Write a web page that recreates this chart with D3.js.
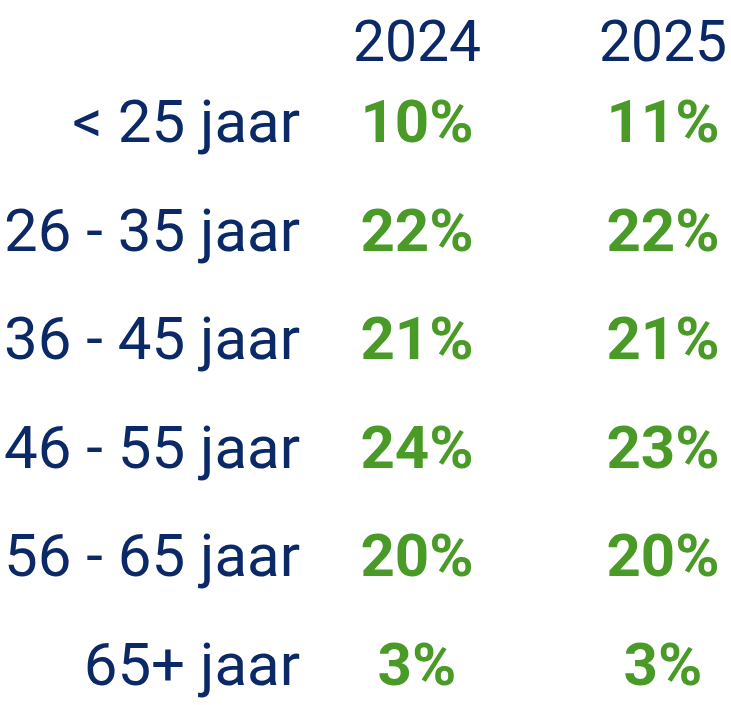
<!DOCTYPE html>
<html>
<head>
<meta charset="utf-8">
<script src="https://cdn.jsdelivr.net/npm/d3@7"></script>
<style>
  html, body { margin: 0; padding: 0; background: #fff; }
  svg { display: block; font-family: Roboto, "Noto Sans", sans-serif; }
</style>
</head>
<body>
<div id="chart"></div>
<script>
// table data
var years = ["2024", "2025"];
var ageGroups = ["< 25 jaar", "26 - 35 jaar", "36 - 45 jaar", "46 - 55 jaar", "56 - 65 jaar", "65+ jaar"];
var values2024 = [10, 22, 21, 24, 20, 3];
var values2025 = [11, 22, 21, 23, 20, 3];

var width = 731, height = 705;
var navy = "#0a2966", green = "#4a9a28";

var svg = d3.select("#chart")
    .append("svg")
    .attr("width", width)
    .attr("height", height);

var x = d3.scalePoint().domain(years).range([417, 663]);
var y = d3.scalePoint().domain(ageGroups).range([142, 685]);

var labelRight = 300;

// column headers
svg.selectAll("text.year")
    .data(years)
    .enter()
    .append("text")
    .attr("class", "year")
    .attr("x", function(d) { return x(d); })
    .attr("y", 61)
    .attr("text-anchor", "middle")
    .attr("font-size", 57)
    .attr("fill", navy)
    .text(function(d) { return d; });

// row labels
svg.selectAll("text.age")
    .data(ageGroups)
    .enter()
    .append("text")
    .attr("class", "age")
    .attr("x", labelRight)
    .attr("y", function(d) { return y(d); })
    .attr("text-anchor", "end")
    .attr("font-size", 60)
    .attr("fill", navy)
    .text(function(d) { return d; });

// percentage cells
var cells = [];
ageGroups.forEach(function(g, i) {
    cells.push({year: "2024", group: g, value: values2024[i]});
    cells.push({year: "2025", group: g, value: values2025[i]});
});

svg.selectAll("text.val")
    .data(cells)
    .enter()
    .append("text")
    .attr("class", "val")
    .attr("x", function(d) { return x(d.year); })
    .attr("y", function(d) { return y(d.group); })
    .attr("text-anchor", "middle")
    .attr("font-size", 60)
    .attr("font-weight", 700)
    .attr("fill", green)
    .text(function(d) { return d.value + "%"; });
</script>
</body>
</html>
